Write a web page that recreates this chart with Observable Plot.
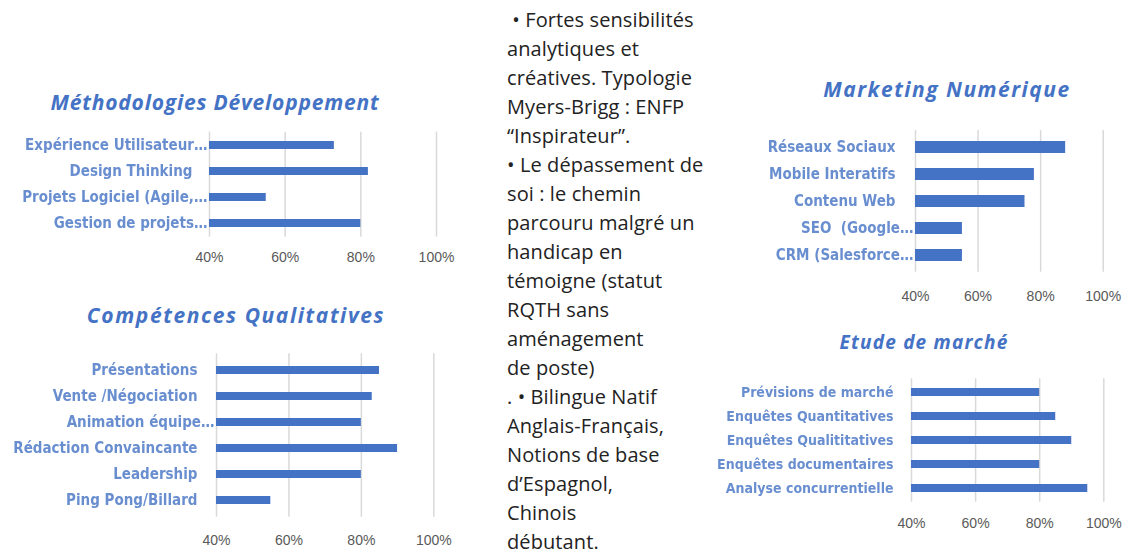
<!DOCTYPE html>
<html><head><meta charset="utf-8">
<script src="https://cdn.jsdelivr.net/npm/d3@7"></script>
<script src="https://cdn.jsdelivr.net/npm/@observablehq/plot@0.6"></script>
<style>
body{margin:0;width:1130px;height:555px;background:#fff;position:relative;overflow:hidden}
.title{position:absolute;transform:translate(-50%,-50%);font-family:"Open Sans",sans-serif;font-weight:700;font-style:italic;color:#4472C4;white-space:nowrap;line-height:1}
.chart{position:absolute}
#txt{position:absolute;left:507px;top:5px;font-family:"Open Sans",sans-serif;font-weight:400;font-size:20px;line-height:29px;color:#222;white-space:pre;letter-spacing:0.1px}
</style></head><body>
<script>
// ---- data ----
const methTitle = "Méthodologies Développement";
const methLabels = ["Expérience Utilisateur…","Design Thinking","Projets Logiciel (Agile,…","Gestion de projets…"];
const methValues = [0.73,0.82,0.55,0.80];

const compTitle = "Compétences Qualitatives";
const compLabels = ["Présentations","Vente /Négociation","Animation équipe…","Rédaction Convaincante","Leadership","Ping Pong/Billard"];
const compValues = [0.85,0.83,0.80,0.90,0.80,0.55];

const mktTitle = "Marketing Numérique";
const mktLabels = ["Réseaux Sociaux","Mobile Interatifs","Contenu Web","SEO  (Google…","CRM (Salesforce…"];
const mktValues = [0.88,0.78,0.75,0.55,0.55];

const etudeTitle = "Etude de marché";
const etudeLabels = ["Prévisions de marché","Enquêtes Quantitatives","Enquêtes Qualititatives","Enquêtes documentaires","Analyse concurrentielle"];
const etudeValues = [0.80,0.85,0.90,0.80,0.95];

const xDomain = [0.4, 1.0];
const xTicks = [0.4, 0.6, 0.8, 1.0];

const textLines = [
" • Fortes sensibilités",
"analytiques et",
"créatives. Typologie",
"Myers-Brigg : ENFP",
"“Inspirateur”.",
"• Le dépassement de",
"soi : le chemin",
"parcouru malgré un",
"handicap en",
"témoigne (statut",
"RQTH sans",
"aménagement",
"de poste)",
". • Bilingue Natif",
"Anglais-Français,",
"Notions de base",
"d’Espagnol,",
"Chinois",
"débutant."
];

// ---- layout ----
const BLUE = "#4472C4";
const labelFont = "'Liberation Sans Narrow','DejaVu Sans Condensed','Arial Narrow',sans-serif";

function addTitle(text, cx, cy, size, ls) {
  const d = document.createElement("div");
  d.className = "title";
  d.textContent = text;
  d.style.left = cx + "px";
  d.style.top = cy + "px";
  d.style.fontSize = size + "px";
  d.style.letterSpacing = ls + "px";
  document.body.appendChild(d);
}

function makeChart(labels, values, cfg) {
  const data = labels.map((label, i) => ({label, v: values[i]}));
  const trunc = d => d.label.endsWith("…");
  const svg = Plot.plot({
    width: cfg.width, height: cfg.height,
    marginLeft: cfg.ml, marginRight: cfg.mr, marginTop: cfg.mt, marginBottom: cfg.mb,
    x: {domain: xDomain, label: null},
    y: {domain: labels, paddingInner: cfg.pi, paddingOuter: cfg.po, axis: null},
    style: {background: "transparent", overflow: "visible"},
    marks: [
      Plot.gridX(xTicks, {stroke: "#d9d9d9", strokeOpacity: 1, strokeWidth: 1.5}),
      Plot.axisX(xTicks, {tickSize: 0, tickPadding: cfg.tp, fontSize: 14, fill: "#595959",
        label: null, fontFamily: "'Liberation Sans',sans-serif", tickFormat: d3.format(".0%")}),
      Plot.barX(data, {x1: () => xDomain[0], x2: "v", y: "label", fill: BLUE}),
      Plot.text(data.filter(d => !trunc(d)), {x: () => xDomain[0], y: "label", text: "label",
        textAnchor: "end", dx: -cfg.gap, fill: BLUE, fillOpacity: 0.8, fontWeight: "bold",
        fontSize: cfg.fs, fontFamily: labelFont}),
      Plot.text(data.filter(trunc), {x: () => xDomain[0], y: "label", text: "label",
        textAnchor: "end", dx: -2, fill: BLUE, fillOpacity: 0.8, fontWeight: "bold",
        fontSize: cfg.fs, fontFamily: labelFont})
    ]
  });
  svg.querySelectorAll('g[aria-label="text"]').forEach(g => g.style.filter = "blur(0.55px)");
  svg.classList.add("chart");
  svg.style.left = cfg.left + "px";
  svg.style.top = cfg.top + "px";
  svg.style.position = "absolute";
  document.body.appendChild(svg);
}

// Chart 1: Méthodologies
addTitle(methTitle, 215, 102, 21, 0.8);
makeChart(methLabels, methValues, {left: 0, top: 120, width: 470, height: 150,
  ml: 209, mr: 34, mt: 11.7, mb: 33.3, pi: 0.69, po: 0.35, tp: 15, gap: 17, fs: 15});

// Chart 2: Compétences
addTitle(compTitle, 236, 315, 21, 1.6);
makeChart(compLabels, compValues, {left: 0, top: 340, width: 470, height: 200,
  ml: 216, mr: 36.7, mt: 13.3, mb: 23.3, pi: 0.68, po: 0.38, tp: 18, gap: 19, fs: 15});

// Chart 3: Marketing
addTitle(mktTitle, 947, 89, 21, 1.5);
makeChart(mktLabels, mktValues, {left: 700, top: 115, width: 430, height: 175,
  ml: 215, mr: 27.3, mt: 15, mb: 18.3, pi: 0.54, po: 0.31, tp: 18.6, gap: 20, fs: 15});

// Chart 4: Etude de marché
addTitle(etudeTitle, 924, 342, 19, 1.2);
makeChart(etudeLabels, etudeValues, {left: 700, top: 365, width: 430, height: 150,
  ml: 211, mr: 26.7, mt: 13.3, mb: 13.3, pi: 0.68, po: 0.31, tp: 16, gap: 18, fs: 14});

// Text column
const txt = document.createElement("div");
txt.id = "txt";
txt.textContent = textLines.join("\n");
document.body.appendChild(txt);
</script>
</body></html>
